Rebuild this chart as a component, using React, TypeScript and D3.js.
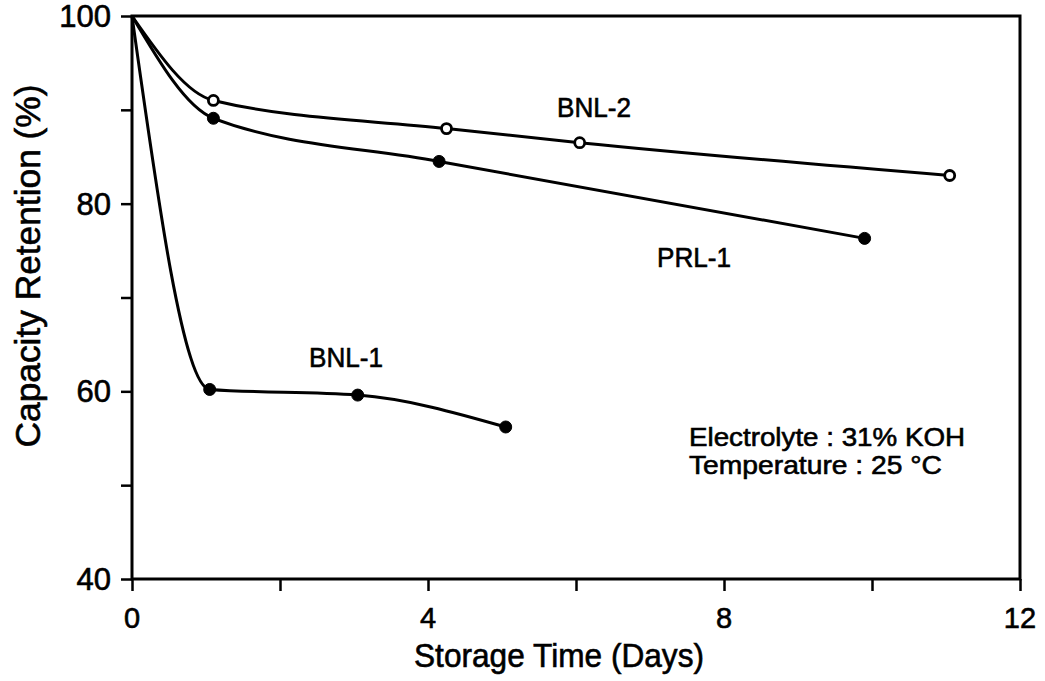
import React, { useEffect, useRef } from "react";
import * as d3 from "d3";

// ---- data ----
const xTicks = [0, 4, 8, 12];
const xMinorTicks = [0, 2, 4, 6, 8, 10, 12];
const yTicks = [40, 60, 80, 100];
const yMinorTicks = [40, 50, 60, 70, 80, 90, 100];

const bnl2Days = [0, 1.1, 4.25, 6.05, 11.05];
const bnl2Values = [100, 91.0, 88.0, 86.5, 83.0];

const prl1Days = [0, 1.1, 4.15, 9.9];
const prl1Values = [100, 89.1, 84.5, 76.3];

const bnl1Days = [0, 1.05, 3.05, 5.05];
const bnl1Values = [100, 60.2, 59.6, 56.2];

const seriesNames = ["BNL-2", "PRL-1", "BNL-1"];
const noteLines = ["Electrolyte : 31% KOH", "Temperature : 25 °C"];
const xTitle = "Storage Time (Days)";
const yTitle = "Capacity Retention (%)";

const W = 1045;
const H = 681;
const FONT = "'Liberation Sans', Arial, Helvetica, sans-serif";

export default function App() {
  const ref = useRef<SVGSVGElement | null>(null);

  useEffect(() => {
    const svg = d3.select(ref.current);
    svg.selectAll("*").remove();

    const left = 132, right = 1020, top = 16, bottom = 579;
    const x = d3.scaleLinear().domain([0, 12]).range([left, right]);
    const y = d3.scaleLinear().domain([40, 100]).range([bottom, top]);

    const g = svg.append("g");

    // left axis ticks (outward)
    const yAxis = d3.axisLeft(y).tickValues(yMinorTicks).tickSize(11).tickFormat(() => "");
    const ya = g.append("g").attr("transform", `translate(${left},0)`).call(yAxis);
    ya.select(".domain").remove();
    ya.selectAll("line").attr("stroke", "#000").attr("stroke-width", 2.5);

    // bottom axis ticks (outward)
    const xAxis = d3.axisBottom(x).tickValues(xMinorTicks).tickSize(12).tickFormat(() => "");
    const xa = g.append("g").attr("transform", `translate(0,${bottom})`).call(xAxis);
    xa.select(".domain").remove();
    xa.selectAll("line").attr("stroke", "#000").attr("stroke-width", 2.5);

    // frame
    g.append("rect")
      .attr("x", left).attr("y", top)
      .attr("width", right - left).attr("height", bottom - top)
      .attr("fill", "none").attr("stroke", "#000").attr("stroke-width", 3);

    const ink = (sel: any) =>
      sel.attr("fill", "#000").attr("stroke", "#000").attr("stroke-width", 0.6);

    // y tick labels
    ink(
      g.selectAll("text.ytl").data(yTicks).enter().append("text")
        .attr("class", "ytl")
        .attr("x", 111).attr("y", (d: number) => y(d)).attr("dy", "0.35em")
        .attr("text-anchor", "end")
        .attr("font-family", FONT).attr("font-size", 31)
        .text((d: number) => String(d))
    );

    // x tick labels
    ink(
      g.selectAll("text.xtl").data(xTicks).enter().append("text")
        .attr("class", "xtl")
        .attr("x", (d: number) => x(d)).attr("y", 628)
        .attr("text-anchor", "middle")
        .attr("font-family", FONT).attr("font-size", 29)
        .text((d: number) => String(d))
    );

    // axis titles
    ink(
      g.append("text")
        .attr("x", 559).attr("y", 667)
        .attr("text-anchor", "middle")
        .attr("font-family", FONT).attr("font-size", 33)
        .attr("textLength", 290).attr("lengthAdjust", "spacingAndGlyphs")
        .text(xTitle)
    );

    ink(
      g.append("text")
        .attr("transform", "translate(40,266) rotate(-90)")
        .attr("text-anchor", "middle")
        .attr("font-family", FONT).attr("font-size", 35)
        .attr("textLength", 363).attr("lengthAdjust", "spacingAndGlyphs")
        .text(yTitle)
    );

    const line = d3.line<[number, number]>()
      .x((d) => x(d[0])).y((d) => y(d[1]))
      .curve(d3.curveMonotoneX);

    const series = [
      { days: bnl2Days, vals: bnl2Values, open: true },
      { days: prl1Days, vals: prl1Values, open: false },
      { days: bnl1Days, vals: bnl1Values, open: false },
    ];

    series.forEach((s) => {
      const pts: [number, number][] = s.days.map((d, i) => [d, s.vals[i]]);
      g.append("path")
        .attr("d", line(pts) || "")
        .attr("fill", "none").attr("stroke", "#000")
        .attr("stroke-width", 3).attr("stroke-linejoin", "round");
      g.selectAll(null).data(pts.slice(1)).enter().append("circle")
        .attr("cx", (d) => x(d[0])).attr("cy", (d) => y(d[1]))
        .attr("r", s.open ? 5 : 6)
        .attr("fill", s.open ? "#fff" : "#000")
        .attr("stroke", "#000").attr("stroke-width", s.open ? 2.8 : 1);
    });

    // series labels
    const labels = [
      { t: seriesNames[0], x: 594, y: 117 },
      { t: seriesNames[1], x: 694, y: 267 },
      { t: seriesNames[2], x: 346, y: 367 },
    ];
    labels.forEach((l) => {
      ink(
        g.append("text")
          .attr("x", l.x).attr("y", l.y)
          .attr("text-anchor", "middle")
          .attr("font-family", FONT).attr("font-size", 27)
          .attr("textLength", 74).attr("lengthAdjust", "spacingAndGlyphs")
          .text(l.t)
      );
    });

    // note
    ink(
      g.append("text")
        .attr("x", 689).attr("y", 446)
        .attr("font-family", FONT).attr("font-size", 26)
        .attr("textLength", 276).attr("lengthAdjust", "spacingAndGlyphs")
        .text(noteLines[0])
    );
    ink(
      g.append("text")
        .attr("x", 689).attr("y", 474)
        .attr("font-family", FONT).attr("font-size", 26)
        .attr("textLength", 253).attr("lengthAdjust", "spacingAndGlyphs")
        .text(noteLines[1])
    );
  }, []);

  return (
    <svg
      ref={ref}
      width={W}
      height={H}
      style={{ position: "absolute", left: 0, top: 0, background: "#fff" }}
    />
  );
}
